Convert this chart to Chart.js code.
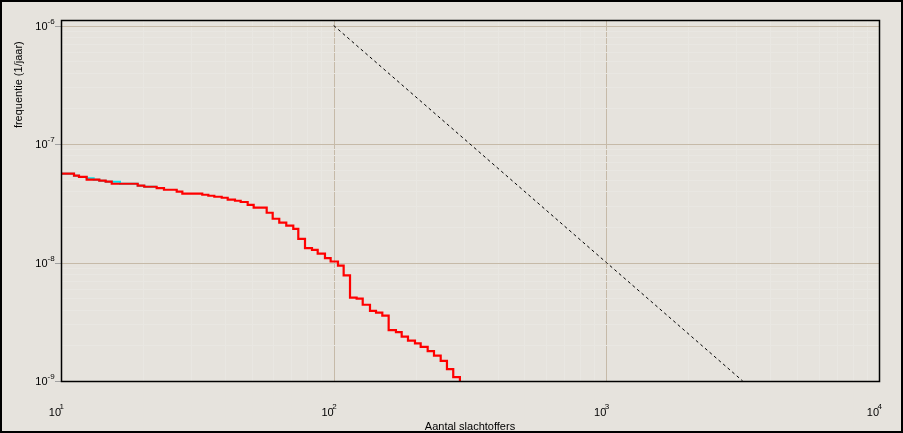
<!DOCTYPE html>
<html><head><meta charset="utf-8">
<script src="https://cdn.jsdelivr.net/npm/chart.js@4/dist/chart.umd.min.js"></script>
<style>html,body{margin:0;padding:0;background:#e6e3dd;}canvas{display:block;}</style>
</head><body><canvas id="c" width="903" height="433"></canvas>
<script>
// Red curve (step function): number of victims vs frequency
const fnX = [10, 11.16, 11.64, 12.42, 13.82, 14.58, 15.35, 19.11, 20.20, 22.43, 23.86, 26.57, 27.86, 32.97, 34.70, 36.50, 38.85, 40.87, 43.46, 45.60, 48.38, 50.89, 56.80, 59.75, 63.17, 67.01, 71.10, 74.18, 78.50, 83.27, 87.38, 92.92, 97.48, 103.7, 108.8, 114.8, 121.4, 127.8, 135.9, 143.0, 150.8, 159.1, 169.2, 177.6, 187.3, 198.7, 208.5, 221.2, 233.3, 246.9, 260.3, 274.5, 290.4];
const fnY = [5.62e-8, 5.40e-8, 5.27e-8, 5.00e-8, 4.90e-8, 4.81e-8, 4.62e-8, 4.45e-8, 4.36e-8, 4.25e-8, 4.11e-8, 3.97e-8, 3.81e-8, 3.73e-8, 3.66e-8, 3.59e-8, 3.52e-8, 3.39e-8, 3.32e-8, 3.24e-8, 3.07e-8, 2.90e-8, 2.63e-8, 2.34e-8, 2.17e-8, 2.05e-8, 1.92e-8, 1.58e-8, 1.32e-8, 1.28e-8, 1.19e-8, 1.09e-8, 1.02e-8, 9.40e-9, 7.80e-9, 5.05e-9, 4.95e-9, 4.40e-9, 3.90e-9, 3.77e-9, 3.56e-9, 2.69e-9, 2.58e-9, 2.37e-9, 2.19e-9, 2.08e-9, 1.94e-9, 1.79e-9, 1.64e-9, 1.48e-9, 1.26e-9, 1.08e-9, 9.0e-10];
// Cyan curve (mostly hidden under the red one)
const fnAltX = [10, 11.16, 11.64, 12.42, 13.18, 13.82, 14.58, 16.46, 19.11, 20.20, 22.43];
const fnAltY = [5.62e-8, 5.40e-8, 5.27e-8, 5.13e-8, 5.00e-8, 4.90e-8, 4.81e-8, 4.62e-8, 4.45e-8, 4.36e-8, 4.36e-8];
// Dashed norm line
const critX = [100, 1000, 3162.28];
const critY = [1e-6, 1e-8, 1e-9];
// Tick labels
const xTickVals = [10, 100, 1000, 10000];
const xTickExp = ['1', '2', '3', '4'];
const yTickVals = [1e-9, 1e-8, 1e-7, 1e-6];
const yTickExp = ['-9', '-8', '-7', '-6'];
const minorMults = [2, 3, 4, 5, 6, 7, 8, 9];
const xTitle = 'Aantal slachtoffers';
const yTitle = 'frequentie (1/jaar)';

const BG = '#e6e3dd', MAJOR = '#c6baa8', MINOR = '#e9e7e2', TICK = '#a0a0a0';
const FONT = '"Liberation Sans", Arial, sans-serif';

function seg(ctx, x1, y1, x2, y2) { ctx.beginPath(); ctx.moveTo(x1, y1); ctx.lineTo(x2, y2); ctx.stroke(); }

const deco = {
  id: 'deco',
  beforeDraw(chart) {
    const c = chart.ctx; c.save(); c.fillStyle = BG; c.fillRect(0, 0, chart.width, chart.height); c.restore();
  },
  beforeDatasetsDraw(chart) {
    const { ctx, chartArea: a, scales: { x, y } } = chart;
    ctx.save(); ctx.lineWidth = 1;
    ctx.strokeStyle = MINOR;
    for (let i = 0; i < xTickVals.length - 1; i++) for (const m of minorMults) {
      const px = Math.round(x.getPixelForValue(xTickVals[i] * m)) + 0.5; seg(ctx, px, a.top, px, a.bottom);
    }
    ctx.strokeStyle = MAJOR;
    for (const v of xTickVals) { const px = Math.round(x.getPixelForValue(v)) + 0.5; seg(ctx, px, a.top, px, a.bottom); }
    ctx.strokeStyle = MINOR;
    for (let i = 0; i < yTickVals.length - 1; i++) for (const m of minorMults) {
      const py = Math.round(y.getPixelForValue(yTickVals[i] * m)) + 0.5; seg(ctx, a.left, py, a.right, py);
    }
    ctx.strokeStyle = MAJOR;
    for (const v of yTickVals) { const py = Math.round(y.getPixelForValue(v)) + 0.5; seg(ctx, a.left, py, a.right, py); }
    ctx.restore();
  },
  afterDatasetsDraw(chart) {
    const { ctx, chartArea: a, scales: { x, y } } = chart;
    ctx.save();
    ctx.strokeStyle = TICK; ctx.lineWidth = 1;
    for (const v of yTickVals) { const py = Math.round(y.getPixelForValue(v)) + 0.5; seg(ctx, a.left - 6, py, a.left, py); }
    ctx.strokeStyle = '#000'; ctx.lineWidth = 1.5;
    ctx.strokeRect(Math.round(a.left) + 0.5, Math.round(a.top) + 0.5, Math.round(a.right - a.left), Math.round(a.bottom - a.top));
    ctx.lineWidth = 2; ctx.strokeStyle = '#000';
    ctx.strokeRect(1, 1, chart.width - 2, chart.height - 2);
    ctx.fillStyle = '#000';
    ctx.textBaseline = 'alphabetic';
    for (let i = 0; i < xTickVals.length; i++) {
      const px = x.getPixelForValue(xTickVals[i]);
      ctx.font = '11px ' + FONT; ctx.textAlign = 'right'; ctx.fillText('10', px, a.bottom + 35);
      ctx.font = '8px ' + FONT; ctx.textAlign = 'left'; ctx.fillText(xTickExp[i], px - 1.5, a.bottom + 28);
    }
    for (let i = 0; i < yTickVals.length; i++) {
      const py = y.getPixelForValue(yTickVals[i]);
      ctx.font = '11px ' + FONT; ctx.textAlign = 'right'; ctx.fillText('10', 47.5, py + 4);
      ctx.font = '8px ' + FONT; ctx.textAlign = 'left'; ctx.fillText(yTickExp[i], 47.5, py - 2);
    }
    ctx.font = '11px ' + FONT; ctx.textAlign = 'center';
    ctx.fillText(xTitle, (a.left + a.right) / 2, 429.5);
    ctx.save(); ctx.translate(21.5, 84.7); ctx.rotate(-Math.PI / 2);
    ctx.textAlign = 'center'; ctx.fillText(yTitle, 0, 0); ctx.restore();
    ctx.restore();
  }
};

new Chart(document.getElementById('c'), {
  type: 'line',
  data: {
    datasets: [
      { label: 'red', data: fnX.map((v, i) => ({ x: v, y: fnY[i] })), borderColor: '#ff0000', borderWidth: 2.2, stepped: true, pointRadius: 0, fill: false },
      { label: 'cyan', data: fnAltX.map((v, i) => ({ x: v, y: fnAltY[i] })), borderColor: '#00e8f0', borderWidth: 2, stepped: true, pointRadius: 0, fill: false },
      { label: 'norm', data: critX.map((v, i) => ({ x: v, y: critY[i] })), borderColor: '#000', borderWidth: 1, borderDash: [3, 3], pointRadius: 0, fill: false }
    ]
  },
  options: {
    responsive: false, animation: false, devicePixelRatio: 1,
    layout: { padding: { left: 61, right: 24, top: 20, bottom: 52 } },
    plugins: { legend: { display: false }, tooltip: { enabled: false } },
    scales: {
      x: { type: 'logarithmic', min: 10, max: 10000, display: false },
      y: { type: 'logarithmic', min: 1e-9, max: 1.113e-6, display: false }
    }
  },
  plugins: [deco]
});
</script></body></html>
